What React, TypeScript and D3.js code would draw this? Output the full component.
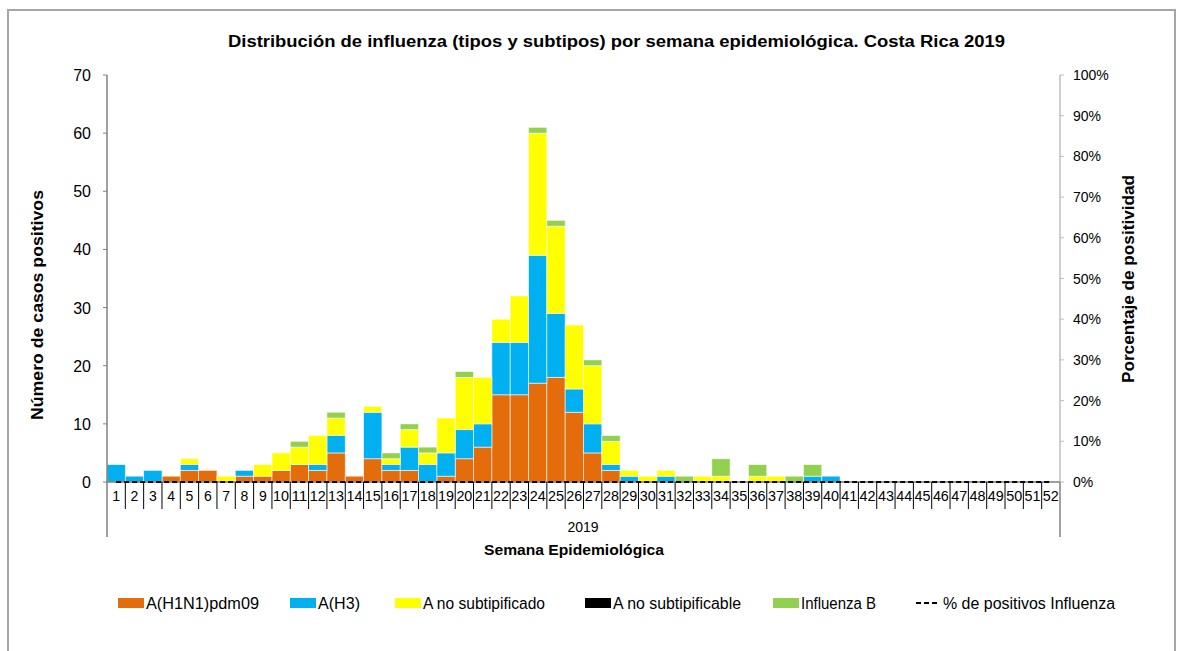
import React from 'react';
import * as d3 from 'd3';

// weeks 1..52
const weeks = d3.range(1, 53).map(String);

// cases per week, weeks 1..40, rest are 0
const h1n1 = [0,0,0,1,2,2,0,1,1,2,3,2,5,1,4,2,2,0,1,4,6,15,15,17,18,12,5,2,0,0,0,0,0,0,0,0,0,0,0,0];
const h3 =   [3,1,2,0,1,0,0,1,0,0,0,1,3,0,8,1,4,3,4,5,4,9,9,22,11,4,5,1,1,0,1,0,0,0,0,0,0,0,1,1];
const aNoSub = [0,0,0,0,1,0,1,0,2,3,3,5,3,0,1,1,3,2,6,9,8,4,8,21,15,11,10,4,1,1,1,0,1,1,0,1,1,0,0,0];
const aNoSubable = [0,0,0,0,0,0,0,0,0,0,0,0,0,0,0,0,0,0,0,0,0,0,0,0,0,0,0,0,0,0,0,0,0,0,0,0,0,0,0,0];
const fluB = [0,0,0,0,0,0,0,0,0,0,1,0,1,0,0,1,1,1,0,1,0,0,0,1,1,0,1,1,0,0,0,1,0,3,0,2,0,1,2,0];
// % positivity, all at 0
const pctPos = weeks.map(() => 0);

const seriesKeys = ['h1n1', 'h3', 'aNoSub', 'aNoSubable', 'fluB'];
const seriesNames = ['A(H1N1)pdm09', 'A(H3)', 'A no subtipificado', 'A no subtipificable', 'Influenza B'];
const seriesColors = ['#E46C0A', '#00B0F0', '#FFFF00', '#000000', '#92D050'];

const leftTicks = [0, 10, 20, 30, 40, 50, 60, 70];
const rightTicks = [0, 0.1, 0.2, 0.3, 0.4, 0.5, 0.6, 0.7, 0.8, 0.9, 1];

const FONT = '"Liberation Sans", Arial, sans-serif';

const App = () => {
  const W = 1182, H = 651;
  const left = 107, right = 1060, top = 75, bottom = 482;

  const rows = weeks.map((w, i) => ({
    week: w,
    h1n1: h1n1[i] || 0,
    h3: h3[i] || 0,
    aNoSub: aNoSub[i] || 0,
    aNoSubable: aNoSubable[i] || 0,
    fluB: fluB[i] || 0,
  }));

  const x = d3.scaleBand().domain(weeks).range([left, right]).padding(0);
  const y = d3.scaleLinear().domain([0, 70]).range([bottom, top]);
  const y2 = d3.scaleLinear().domain([0, 1]).range([bottom, top]);

  const stacked = d3.stack().keys(seriesKeys)(rows as any);

  const pctLine = d3.line<number>()
    .x((d, i) => (x(weeks[i]) as number) + x.bandwidth() / 2)
    .y(d => y2(d));

  // legend entries x positions
  const legendX = [118, 290, 395, 585, 773, 916];
  const legendLen = [113, 42, 122, 128, 75];
  const legendY = 603;

  return (
    <svg width={W} height={H} style={{ position: 'absolute', left: 0, top: 0 }} fontFamily={FONT}>
      <rect x={0} y={0} width={W} height={H} fill="#fff" />
      <rect x={8} y={10} width={1167} height={660} fill="#fff" stroke="#a6a6a6" strokeWidth={2} />

      <text x={228} y={47} fontSize={16} fontWeight="bold" textLength={777} lengthAdjust="spacingAndGlyphs">
        Distribución  de influenza  (tipos y subtipos)  por semana epidemiológica.  Costa Rica 2019
      </text>

      {/* bars */}
      {stacked.map((s, si) => (
        <g key={s.key}>
          {s.map((d, i) => (d[1] - d[0] > 0 ? (
            <rect key={i}
              x={x(weeks[i]) as number}
              y={y(d[1])}
              width={x.bandwidth()}
              height={y(d[0]) - y(d[1])}
              fill={seriesColors[si]}
              stroke="#ffffff" strokeOpacity={0.7} strokeWidth={0.8} />
          ) : null))}
        </g>
      ))}

      {/* left axis */}
      <line x1={left} x2={left} y1={top} y2={bottom} stroke="#808080" strokeWidth={1.5} />
      {leftTicks.map(t => (
        <g key={t}>
          <line x1={left - 4} x2={left} y1={y(t)} y2={y(t)} stroke="#808080" />
          <text x={91} y={y(t) + 6} textAnchor="end" fontSize={16}>{t}</text>
        </g>
      ))}

      {/* right axis */}
      <line x1={right} x2={right} y1={top} y2={bottom} stroke="#bfbfbf" strokeWidth={1.5} />
      {rightTicks.map(t => (
        <g key={t}>
          <line x1={right} x2={right + 4} y1={y2(t)} y2={y2(t)} stroke="#bfbfbf" />
          <text x={1073} y={y2(t) + 5} fontSize={14}>{d3.format('.0%')(t)}</text>
        </g>
      ))}

      {/* x axis with category boxes */}
      <line x1={left} x2={right} y1={bottom} y2={bottom} stroke="#808080" strokeWidth={1.5} />
      {weeks.map((w, i) => (
        <g key={w}>
          {i > 0 && <line x1={x(w) as number} x2={x(w) as number} y1={bottom} y2={509} stroke="#000" strokeWidth={1} />}
          <text x={(x(w) as number) + x.bandwidth() / 2} y={501} textAnchor="middle" fontSize={14}
            textLength={+w >= 10 ? 16 : undefined} lengthAdjust="spacingAndGlyphs">{w}</text>
        </g>
      ))}
      <line x1={left} x2={left} y1={bottom} y2={537} stroke="#808080" strokeWidth={1.5} />
      <line x1={right} x2={right} y1={bottom} y2={537} stroke="#808080" strokeWidth={1.5} />
      <text x={583} y={532} textAnchor="middle" fontSize={14}>2019</text>
      <text x={484} y={555} fontSize={15} fontWeight="bold" textLength={180} lengthAdjust="spacingAndGlyphs">Semana Epidemiológica</text>

      {/* % positivos line */}
      <path d={pctLine(pctPos) || ''} fill="none" stroke="#000" strokeWidth={2.2} strokeDasharray="5,3" />

      {/* axis titles */}
      <text transform="translate(43,420) rotate(-90)" fontSize={17} fontWeight="bold" textLength={230} lengthAdjust="spacingAndGlyphs">
        Número de casos positivos
      </text>
      <text transform="translate(1134,383) rotate(-90)" fontSize={17} fontWeight="bold" textLength={208} lengthAdjust="spacingAndGlyphs">
        Porcentaje de positividad
      </text>

      {/* legend */}
      {seriesNames.map((n, i) => (
        <g key={n}>
          <rect x={legendX[i]} y={legendY - 5} width={26} height={10} fill={seriesColors[i]} />
          <text x={legendX[i] + 28} y={legendY + 6} fontSize={16} textLength={legendLen[i]} lengthAdjust="spacingAndGlyphs">{n}</text>
        </g>
      ))}
      <line x1={legendX[5]} x2={legendX[5] + 24} y1={legendY} y2={legendY} stroke="#000" strokeWidth={2.2} strokeDasharray="5,3" />
      <text x={legendX[5] + 27} y={legendY + 6} fontSize={16} textLength={172} lengthAdjust="spacingAndGlyphs">% de positivos Influenza</text>
    </svg>
  );
};

export default App;
